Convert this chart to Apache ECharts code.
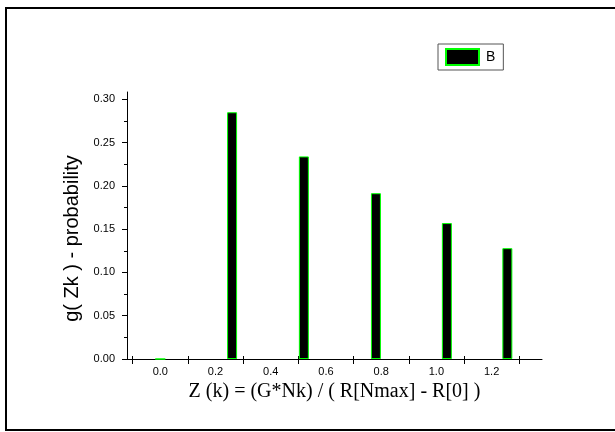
<!DOCTYPE html>
<html>
<head>
<meta charset="utf-8">
<script src="https://cdn.jsdelivr.net/npm/echarts@6/dist/echarts.min.js"></script>
<style>html,body{margin:0;padding:0;background:#fff;}#c{width:615px;height:432px;}</style>
</head>
<body>
<div id="c"></div>
<script>
var xValues = [0.0, 0.26, 0.52, 0.781, 1.038, 1.257];
var yValues = [0.0, 0.285, 0.234, 0.1915, 0.157, 0.128];
var xLabelValues = [0.0, 0.2, 0.4, 0.6, 0.8, 1.0, 1.2];
var xTickValues = [-0.1, 0.1, 0.3, 0.5, 0.7, 0.9, 1.1, 1.3];
var yLabelValues = [0.00, 0.05, 0.10, 0.15, 0.20, 0.25, 0.30];
var yMinorValues = [0.025, 0.075, 0.125, 0.175, 0.225, 0.275];
var seriesName = 'B';

var chart = echarts.init(document.getElementById('c'), null, {renderer: 'canvas'});
var data = xValues.map(function (x, i) { return [x, yValues[i]]; });
var xMin = -0.1206, xMax = 1.3825, yMin = 0, yMax = 0.3084;

chart.setOption({
  animation: false,
  backgroundColor: '#fff',
  grid: {left: 127, right: 73, top: 92, bottom: 73, containLabel: false},
  legend: {
    data: [{name: seriesName, icon: 'rect'}],
    left: 438, top: 44,
    padding: [4, 8, 4, 7],
    itemWidth: 33, itemHeight: 16, itemGap: 4,
    borderColor: '#555', borderWidth: 1,
    textStyle: {fontFamily: 'Liberation Sans', fontSize: 14, color: '#000', padding: [0, 0, 0, 2]}
  },
  xAxis: [{
    type: 'value', min: xMin, max: xMax,
    name: 'Z (k) = (G*Nk) / ( R[Nmax] - R[0] )',
    nameLocation: 'middle', nameGap: 23,
    nameTextStyle: {fontFamily: 'Liberation Serif', fontSize: 20, color: '#000'},
    axisLine: {show: true, onZero: false, lineStyle: {color: '#000', width: 1}},
    axisTick: {show: true, inside: false, length: 5, customValues: xTickValues, lineStyle: {color: '#000'}},
    axisLabel: {show: true, margin: 7, customValues: xLabelValues, formatter: function (v) { return v.toFixed(1); }, fontFamily: 'Liberation Sans', fontSize: 11, color: '#000'},
    splitLine: {show: false}
  }, {
    type: 'value', min: xMin, max: xMax, position: 'bottom',
    axisLine: {show: false, onZero: false},
    axisTick: {show: true, inside: true, length: 3, customValues: xTickValues, lineStyle: {color: '#000'}},
    axisLabel: {show: false},
    splitLine: {show: false}
  }],
  yAxis: [{
    type: 'value', min: yMin, max: yMax,
    name: 'g( Zk ) - probability',
    nameLocation: 'middle', nameGap: 38, nameRotate: 90,
    nameTextStyle: {fontFamily: 'Liberation Sans', fontSize: 20, color: '#000', padding: [0, 26, 0, 0]},
    axisLine: {show: true, onZero: false, lineStyle: {color: '#000', width: 1}},
    axisTick: {show: true, inside: false, length: 5, customValues: yLabelValues, lineStyle: {color: '#000'}},
    axisLabel: {show: true, margin: 12, customValues: yLabelValues, formatter: function (v) { return v.toFixed(2); }, fontFamily: 'Liberation Sans', fontSize: 11, color: '#000'},
    splitLine: {show: false}
  }, {
    type: 'value', min: yMin, max: yMax, position: 'left',
    axisLine: {show: false, onZero: false},
    axisTick: {show: true, inside: false, length: 3, customValues: yMinorValues, lineStyle: {color: '#000'}},
    axisLabel: {show: false},
    splitLine: {show: false}
  }],
  series: [{
    name: seriesName,
    type: 'bar',
    xAxisIndex: 0, yAxisIndex: 0,
    barWidth: 10,
    data: data,
    itemStyle: {color: '#000', borderColor: '#00ff00', borderWidth: 1}
  }],
  graphic: [{
    type: 'rect', silent: true, z: 100,
    shape: {x: 6, y: 8, width: 640, height: 422},
    style: {fill: null, stroke: '#000', lineWidth: 2}
  }]
});
</script>
</body>
</html>
